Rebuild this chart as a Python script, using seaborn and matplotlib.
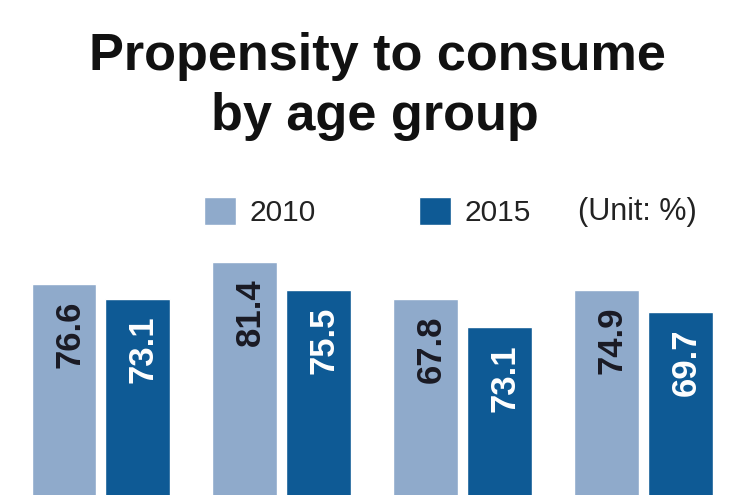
import matplotlib
matplotlib.use("Agg")
import matplotlib.pyplot as plt
import seaborn as sns
import pandas as pd

# ---- data ----
age_groups = ["G1", "G2", "G3", "G4"]
bar_2010 = [76.5, 81.6, 73.1, 75.1]      # drawn bar heights
bar_2015 = [73.1, 75.1, 66.4, 69.9]
label_2010 = ["76.6", "81.4", "67.8", "74.9"]  # printed values
label_2015 = ["73.1", "75.5", "73.1", "69.7"]
years = ["2010", "2015"]
title_lines = ["Propensity to consume", "by age group"]
unit_text = "(Unit: %)"

LIGHT = "#8FAACB"
DARK = "#0E5A95"

df = pd.DataFrame({
    "group": age_groups * 2,
    "year": [years[0]] * 4 + [years[1]] * 4,
    "value": bar_2010 + bar_2015,
})

sns.set_theme(style="white")
plt.rcParams["font.family"] = ["Liberation Sans", "DejaVu Sans"]

fig = plt.figure(figsize=(7.5, 4.95), dpi=100)
ax = fig.add_axes([0, 0, 1, 255 / 495])

sns.barplot(data=df, x="group", y="value", hue="year", order=age_groups,
            hue_order=years, palette=[LIGHT, DARK], width=0.816, gap=0.12,
            saturation=1, ax=ax, legend=False)

ax.set_xlim(-0.5576, 3.587)
ax.set_ylim(27.6, 86.65)
ax.axis("off")

# value labels inside bars
labels_by_hue = [label_2010, label_2015]
colors_by_hue = ["#1a1a24", "white"]
for ci, cont in enumerate(ax.containers):
    for bi, bar in enumerate(cont):
        xc = bar.get_x() + bar.get_width() / 2
        top = bar.get_height()
        ax.annotate(labels_by_hue[ci][bi], xy=(xc, top), xytext=(4, -12),
                    textcoords="offset points", rotation=90,
                    ha="center", va="top", fontsize=25, fontweight="bold",
                    color=colors_by_hue[ci])

# title
fig.text(0.503, 1 - 70 / 495, title_lines[0], ha="center", va="baseline",
         fontsize=37.6, fontweight="bold", color="#111111")
fig.text(0.5, 1 - 130 / 495, title_lines[1], ha="center", va="baseline",
         fontsize=37.6, fontweight="bold", color="#111111")

# legend
handles = [ax.containers[0][0], ax.containers[1][0]]
fig.legend(handles, years, loc="center left",
           bbox_to_anchor=(204 / 750, 1 - 212 / 495), ncol=2, frameon=False,
           borderpad=0, borderaxespad=0, fontsize=21.5, handlelength=1.07,
           handleheight=1.07, handletextpad=0.45, columnspacing=3.45,
           labelcolor="#222222")
fig.text(578 / 750, 1 - 212 / 495, unit_text, ha="left", va="center",
         fontsize=22, color="#222222")

fig.savefig("out.png", dpi=100)
